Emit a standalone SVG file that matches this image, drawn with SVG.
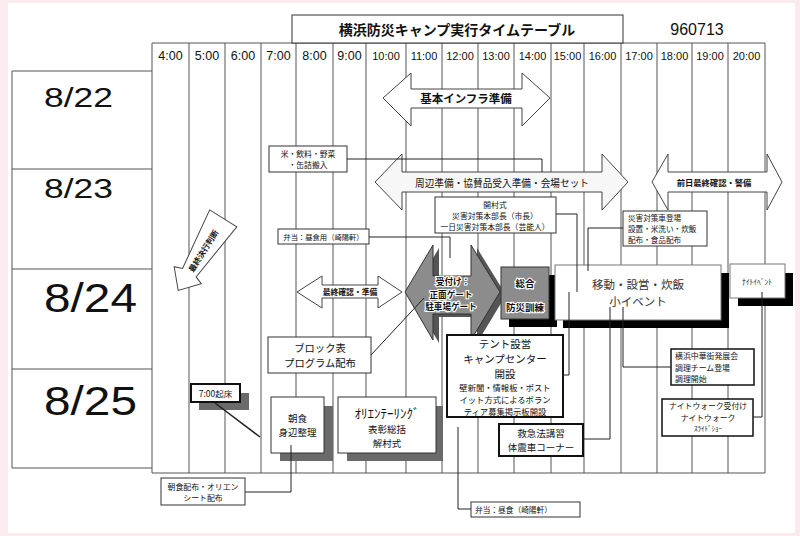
<svg xmlns="http://www.w3.org/2000/svg" width="800" height="536" viewBox="0 0 800 536">
<style>
.gl{stroke:#555;stroke-width:1;fill:none}
.bx{fill:#fff;stroke:#333;stroke-width:1}
.bx2{fill:#fff;stroke:#111;stroke-width:2}
.ar{fill:#fff;stroke:#444;stroke-width:1}
.t{font-family:'Noto Sans CJK JP','Noto Sans CJK SC',sans-serif;fill:#111;text-anchor:middle;dominant-baseline:central}
.l{text-anchor:start}
.n{font-family:'Liberation Sans',Arial,sans-serif;fill:#111;text-anchor:middle}
.b{font-weight:bold}
.h{fill:#111;stroke:#fff;stroke-width:2.2px;paint-order:stroke;font-weight:bold}
.c{stroke:#222;stroke-width:1;fill:none}
.sh{fill:#000}
.gs{fill:#6a6a6a}
.gf{fill:#8c8c8c;stroke:#333;stroke-width:1}
</style>
<rect x="0" y="0" width="800" height="536" fill="#fbeaee"/>
<rect x="8" y="3" width="787" height="530" fill="#fff"/>

<g id="grid">
<path class="gl" d="M152 43H765M152 473H765M152 43V473M189 43V473M225 43V473M261 43V473M296 43V473M333 43V473M366 43V473M406 43V473M442 43V473M478 43V473M514 43V473M551 43V473M584 43V473M621 43V473M657 43V473M692 43V473M728 43V473M765 43V473"/>
<path class="gl" d="M12 71H152M12 169H152M12 269H152M12 369H152M12 468H152M12 71V468"/>
<g class="n" font-size="12.5">
<text x="170.5" y="60">4:00</text><text x="207" y="60">5:00</text><text x="243" y="60">6:00</text><text x="278.5" y="60">7:00</text><text x="314.5" y="60">8:00</text><text x="349.5" y="60">9:00</text>
</g>
<g class="n" font-size="11">
<text x="386" y="60">10:00</text><text x="424" y="60">11:00</text><text x="460" y="60">12:00</text><text x="496" y="60">13:00</text><text x="532.5" y="60">14:00</text><text x="567.5" y="60">15:00</text><text x="602.5" y="60">16:00</text><text x="639" y="60">17:00</text><text x="674.5" y="60">18:00</text><text x="710" y="60">19:00</text><text x="746.5" y="60">20:00</text>
</g>
<text x="44" y="107" class="n" style="text-anchor:start" font-size="28" textLength="69" lengthAdjust="spacingAndGlyphs">8/22</text>
<text x="44" y="198" class="n" style="text-anchor:start" font-size="28" textLength="69" lengthAdjust="spacingAndGlyphs">8/23</text>
<text x="44" y="312" class="n" style="text-anchor:start" font-size="40" textLength="93" lengthAdjust="spacingAndGlyphs">8/24</text>
<text x="44" y="415" class="n" style="text-anchor:start" font-size="40" textLength="93" lengthAdjust="spacingAndGlyphs">8/25</text>
</g>

<g id="title">
<rect x="292" y="15" width="331" height="28" class="bx"/>
<text x="457" y="29" class="t b" font-size="14">横浜防災キャンプ実行タイムテーブル</text>
</g>
<g id="docno"><text x="697" y="35" class="n" font-size="16">960713</text></g>

<g id="infra">
<polygon class="ar" points="383,98 411,73 411,89 522,89 522,73 550,98 522,126 522,108 411,108 411,126"/>
<text x="466" y="98" class="t b" font-size="11.5">基本インフラ準備</text>
</g>
<g id="prep">
<polygon class="ar" style="fill:#f7f7f7" points="375,182 402,154 402,172 602,172 602,154 628,182 602,210 602,192 402,192 402,210"/>
<text x="502" y="182" class="t" font-size="10" textLength="174" lengthAdjust="spacingAndGlyphs">周辺準備・協賛品受入準備・会場セット</text>
</g>
<g id="eve-check">
<polygon class="ar" points="652,182 668,154 668,172 767,172 767,154 782,182 767,210 767,192 668,192 668,210"/>
<text x="714" y="182" class="t b" font-size="8.3">前日最終確認・警備</text>
</g>
<g id="supplies">
<rect x="269" y="146" width="78" height="26" class="bx"/>
<text x="308" y="153" class="t" font-size="7.8">米・飲料・野菜</text>
<text x="308" y="164.5" class="t" font-size="7.8">・缶詰搬入</text>
</g>
<g id="opening">
<rect x="435" y="197" width="121" height="36" class="bx"/>
<text x="495" y="204" class="t" font-size="7.8">開村式</text>
<text x="495" y="215.3" class="t" font-size="7.8">災害対策本部長（市長）</text>
<text x="495" y="226.6" class="t" font-size="7.8">一日災害対策本部長（芸能人）</text>
</g>
<g id="disaster-car">
<rect x="623" y="211" width="84" height="35" class="bx"/>
<text x="628" y="217.5" class="t l" font-size="7.6">災害対策車登場</text>
<text x="628" y="228.5" class="t l" font-size="7.6">設置・米洗い・炊飯</text>
<text x="628" y="239.5" class="t l" font-size="7.6">配布・食品配布</text>
</g>
<g id="bento1">
<rect x="278" y="229" width="91" height="15" class="bx"/>
<text x="323.5" y="237" class="t" font-size="7.3">弁当：昼食用（崎陽軒）</text>
</g>
<g id="final-prep">
<polygon class="ar" points="297,292 322,276 322,285 378,285 378,276 402,292 378,308 378,298 322,298 322,308"/>
<text x="350" y="291.5" class="t b" font-size="7.8">最終確認・準備</text>
</g>
<g id="final-decision" transform="translate(201,254) rotate(-58)">
<polygon class="ar" points="-43,0 -25,-16 -22,-8 42,-16 42,16 -22,8 -25,16"/>
<text x="4" y="0" class="t b" font-size="8">最終決行判断</text>
</g>
<g id="reception">
<polygon fill="#555" points="411,295 439,248 439,279 477,279 477,248 506,295 477,343 477,317 439,317 439,343"/>
<polygon class="gf" points="405,292 433,245 433,276 471,276 471,245 500,292 471,340 471,314 433,314 433,340"/>
<text x="453" y="281" class="t h" font-size="8.6">受付け：</text>
<text x="451" y="293.5" class="t h" font-size="8.6">正面ゲート</text>
<text x="451" y="306" class="t h" font-size="8.6">駐車場ゲート</text>
</g>
<g id="drill">
<rect x="509" y="275" width="48" height="52" class="sh"/>
<rect x="501" y="267" width="48" height="52" class="gf"/>
<text x="525" y="283" class="t h" font-size="9.5">総合</text>
<text x="525" y="307" class="t h" font-size="9.5">防災訓練</text>
</g>
<g id="move">
<rect x="563" y="273" width="166" height="55" class="sh"/>
<rect x="555" y="265" width="166" height="55" fill="#fff" stroke="#777"/>
<text x="638" y="284" class="t" font-size="11.5" style="fill:#333">移動・設営・炊飯</text>
<text x="638" y="300.5" class="t" font-size="11.5" style="fill:#333">小イベント</text>
</g>
<g id="night-event">
<rect x="738" y="273" width="55" height="33" class="sh"/>
<rect x="730" y="264" width="55" height="34" fill="#fff" stroke="#777"/>
<text x="757" y="281" class="t" font-size="7.5">ﾅｲﾄｲﾍﾞﾝﾄ</text>
</g>
<g id="block">
<rect x="268" y="337" width="103" height="36" class="bx"/>
<text x="320" y="347.5" class="t" font-size="10.3">ブロック表</text>
<text x="320" y="362.5" class="t" font-size="10.3">プログラム配布</text>
</g>
<g id="tent">
<rect x="447" y="335" width="116" height="82" class="bx2"/>
<text x="505" y="343.2" class="t" font-size="10.5">テント設営</text>
<text x="505" y="358.4" class="t" font-size="10.5">キャンプセンター</text>
<text x="505" y="373.6" class="t" font-size="10.5">開設</text>
<text x="505" y="387.2" class="t" font-size="8.3">壁新聞・情報板・ポスト</text>
<text x="505" y="399.2" class="t" font-size="8.3">イット方式によるボラン</text>
<text x="505" y="411" class="t" font-size="8.3">ティア募集掲示板開設</text>
</g>
<g id="firstaid">
<rect x="499" y="424" width="84" height="32" class="bx2"/>
<text x="541" y="433" class="t" font-size="9.5">救急法講習</text>
<text x="541" y="447" class="t" font-size="9.5">体震車コーナー</text>
</g>
<g id="chinatown">
<rect x="671" y="349" width="83" height="36" class="bx2" style="stroke-width:1.5"/>
<text x="675" y="355.5" class="t l" font-size="7.9">横浜中華街発展会</text>
<text x="675" y="367" class="t l" font-size="7.9">調理チーム登場</text>
<text x="675" y="378.5" class="t l" font-size="7.9">調理開始</text>
</g>
<g id="nightwalk">
<rect x="662" y="399" width="91" height="37" class="bx2" style="stroke-width:1.5"/>
<text x="708" y="405.5" class="t" font-size="7.8">ナイトウォーク受付け</text>
<text x="708" y="417" class="t" font-size="7.8">ナイトウォーク</text>
<text x="708" y="427.8" class="t" font-size="7">ｽﾗｲﾄﾞｼｮｰ</text>
</g>
<g id="wakeup">
<rect x="199" y="393" width="50" height="17" class="gs"/>
<rect x="191" y="384" width="49" height="18" class="bx2"/>
<text x="215.5" y="393" class="t" font-size="8.5">7:00起床</text>
</g>
<g id="breakfast">
<rect x="280" y="406" width="53" height="55" class="gs"/>
<rect x="271" y="397" width="53" height="56" class="bx"/>
<text x="297.5" y="418" class="t" font-size="9.5">朝食</text>
<text x="297.5" y="432" class="t" font-size="9.5">身辺整理</text>
</g>
<g id="orienteering">
<rect x="347" y="406" width="96" height="55" class="gs"/>
<rect x="338" y="397" width="98" height="56" class="bx"/>
<text x="387" y="412.5" class="t" font-size="13">ｵﾘｴﾝﾃｰﾘﾝｸﾞ</text>
<text x="387" y="429" class="t" font-size="9.5">表彰総括</text>
<text x="387" y="443" class="t" font-size="9.5">解村式</text>
</g>
<g id="bf-dist">
<rect x="161" y="478" width="84" height="27" class="bx"/>
<text x="203" y="486" class="t" font-size="7.9">朝食配布・オリエン</text>
<text x="203" y="497.5" class="t" font-size="7.9">シート配布</text>
</g>
<g id="bento2">
<rect x="471" y="502" width="109" height="15" class="bx"/>
<text x="475" y="509.5" class="t l" font-size="7.7">弁当：昼食（崎陽軒）</text>
</g>

<g id="connectors" class="c">
<path d="M347 159H542V172"/>
<path d="M369 237H450V258"/>
<path d="M556 214H577V292"/>
<path d="M623 228H588V271"/>
<path d="M569 292V375H563"/>
<path d="M610 307V439H583"/>
<path d="M623 307V367H671"/>
<path d="M762 292V417H753"/>
<path d="M458 427V509H471"/>
<path d="M291 445V492H245"/>
<path d="M371 355L424 298"/>
<path d="M215 403L260 437" style="stroke-width:1.5"/>
</g>
</svg>
